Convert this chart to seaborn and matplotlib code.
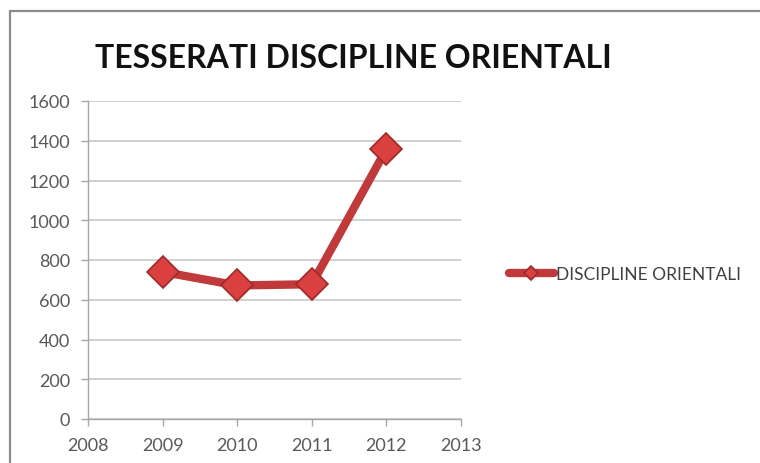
import matplotlib
matplotlib.use("Agg")
import matplotlib.pyplot as plt
import seaborn as sns
import pandas as pd
from matplotlib.patches import Rectangle

# Data
years = [2009, 2010, 2011, 2012]
tesserati = [740, 672, 678, 1358]
series_name = "DISCIPLINE ORIENTALI"
title = "TESSERATI DISCIPLINE ORIENTALI"
x_ticks = [2008, 2009, 2010, 2011, 2012, 2013]
y_ticks = [0, 200, 400, 600, 800, 1000, 1200, 1400, 1600]

df = pd.DataFrame({"anno": years, "tesserati": tesserati})

sns.set_theme(style="white")
plt.rcParams["font.family"] = ["Lato", "DejaVu Sans"]

fig = plt.figure(figsize=(7.6, 4.64), dpi=100)
fig.patch.set_facecolor("white")

# chart frame
fig.add_artist(Rectangle((10 / 760, -0.05), 1.0, 1 - 12 / 464 + 0.05,
                         transform=fig.transFigure, fill=False,
                         edgecolor="#8c8c8c", linewidth=1.6))

ax = fig.add_axes([88 / 760, 1 - 420 / 464, (461 - 88) / 760, (420 - 102) / 464])

red = "#c0393b"
sns.lineplot(data=df, x="anno", y="tesserati", ax=ax, color=red, linewidth=6,
             marker="D", markersize=16, markerfacecolor="#d9403f",
             markeredgecolor="#9e2a2a", markeredgewidth=1.2,
             label=series_name, solid_capstyle="round")

ax.set_xlim(2008, 2013)
ax.set_ylim(0, 1600)
ax.set_xticks(x_ticks)
ax.set_yticks(y_ticks)
ax.set_xticklabels([str(v) for v in x_ticks])
ax.set_yticklabels([str(v) for v in y_ticks])
ax.set_xlabel("")
ax.set_ylabel("")

ax.yaxis.grid(True, color="#c8c8c8", linewidth=1.2)
ax.xaxis.grid(False)
for s in ["top", "right"]:
    ax.spines[s].set_visible(False)
for s in ["left", "bottom"]:
    ax.spines[s].set_color("#a6a6a6")
    ax.spines[s].set_linewidth(1.0)

ax.tick_params(axis="both", which="major", length=5, width=1, color="#a6a6a6",
               labelsize=13, labelcolor="#595959", direction="out")
ax.tick_params(axis="x", pad=8)
ax.tick_params(axis="y", pad=8)
ax.tick_params(bottom=True, left=True)

leg = ax.legend(loc="center left", bbox_to_anchor=(493 / 760, 1 - 275 / 464),
                bbox_transform=fig.transFigure, frameon=False,
                fontsize=12.5, handlelength=2.6, handletextpad=0.1,
                markerscale=0.45)
for t in leg.get_texts():
    t.set_color("#404040")

fig.text(95 / 760, 1 - 58 / 464, title, fontsize=23, fontweight="bold",
         color="#111111", ha="left", va="center")

fig.savefig("out.png", dpi=100, facecolor="white")
